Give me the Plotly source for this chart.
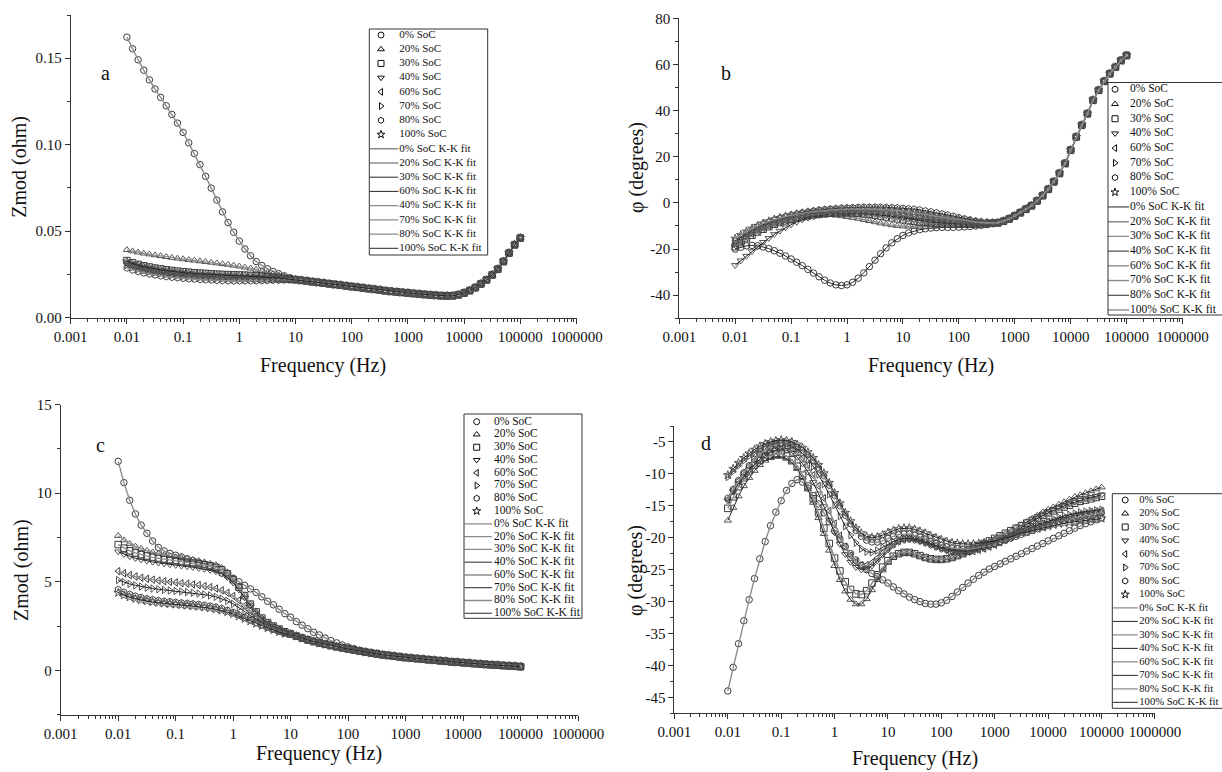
import plotly.graph_objects as go

W, H = 1222, 772
FONT = "Liberation Serif"

# ---------------- data ----------------
FREQ = [0.01, 0.01259, 0.01585, 0.01995, 0.02512, 0.03162, 0.03981, 0.05012, 0.0631, 0.07943,
        0.1, 0.1259, 0.1585, 0.1995, 0.2512, 0.3162, 0.3981, 0.5012, 0.631, 0.7943,
        1, 1.259, 1.585, 1.995, 2.512, 3.162, 3.981, 5.012, 6.31, 7.943,
        10, 12.59, 15.85, 19.95, 25.12, 31.62, 39.81, 50.12, 63.1, 79.43,
        100, 125.9, 158.5, 199.5, 251.2, 316.2, 398.1, 501.2, 631, 794.3,
        1000, 1259, 1585, 1995, 2512, 3162, 3981, 5012, 6310, 7943,
        10000, 12590, 15850, 19950, 25120, 31620, 39810, 50120, 63100, 79430, 100000]

SERIES = ["0% SoC", "20% SoC", "30% SoC", "40% SoC", "60% SoC", "70% SoC", "80% SoC", "100% SoC"]
SYMBOLS = ["circle-open", "triangle-up-open", "square-open", "triangle-down-open",
           "triangle-left-open", "triangle-right-open", "hexagon-open", "star-open"]

# Panel a: Zmod (ohm), first 30 points per series + shared high-frequency part
A_TAIL = [0.0220, 0.0216, 0.0212, 0.0208, 0.0204, 0.0200, 0.0196, 0.0192, 0.0188, 0.0184,
          0.0180, 0.0176, 0.0172, 0.0168, 0.0164, 0.0160, 0.0156, 0.0152, 0.0149, 0.0146,
          0.0143, 0.0140, 0.0137, 0.0134, 0.0131, 0.0129, 0.0127, 0.0126, 0.0127, 0.0133,
          0.0143, 0.0157, 0.0174, 0.0196, 0.0219, 0.0248, 0.0281, 0.0325, 0.0374, 0.0422,
          0.0461]
A0 = [0.1622, 0.1555, 0.1491, 0.1431, 0.1375, 0.1322, 0.1274, 0.1225, 0.1175, 0.1125,
      0.1071, 0.1011, 0.0949, 0.0885, 0.0817, 0.0749, 0.0680, 0.0612, 0.0550, 0.0494,
      0.0443, 0.0397, 0.0358, 0.0325, 0.0302, 0.0283, 0.0267, 0.0254, 0.0242, 0.0231]
A20 = [0.0392, 0.0385, 0.0378, 0.0372, 0.0367, 0.0362, 0.0357, 0.0352, 0.0347, 0.0343,
       0.0339, 0.0335, 0.0331, 0.0327, 0.0323, 0.0319, 0.0315, 0.0311, 0.0307, 0.0302,
       0.0297, 0.0291, 0.0285, 0.0278, 0.0270, 0.0262, 0.0254, 0.0246, 0.0238, 0.0230]
A30 = [0.0330, 0.0318, 0.0308, 0.0300, 0.0293, 0.0287, 0.0282, 0.0277, 0.0273, 0.0269,
       0.0266, 0.0263, 0.0260, 0.0258, 0.0256, 0.0254, 0.0252, 0.0250, 0.0249, 0.0248,
       0.0247, 0.0246, 0.0244, 0.0242, 0.0240, 0.0237, 0.0234, 0.0231, 0.0227, 0.0224]
A40 = [0.0318, 0.0306, 0.0296, 0.0288, 0.0281, 0.0275, 0.0270, 0.0265, 0.0261, 0.0257,
       0.0254, 0.0251, 0.0248, 0.0246, 0.0244, 0.0242, 0.0240, 0.0239, 0.0238, 0.0237,
       0.0236, 0.0235, 0.0234, 0.0233, 0.0232, 0.0231, 0.0229, 0.0227, 0.0225, 0.0223]
A60 = [0.0312, 0.0300, 0.0290, 0.0282, 0.0275, 0.0269, 0.0264, 0.0259, 0.0255, 0.0251,
       0.0248, 0.0245, 0.0242, 0.0240, 0.0238, 0.0236, 0.0234, 0.0233, 0.0232, 0.0231,
       0.0230, 0.0229, 0.0228, 0.0228, 0.0227, 0.0226, 0.0225, 0.0224, 0.0223, 0.0222]
A70 = [0.0305, 0.0293, 0.0283, 0.0275, 0.0268, 0.0262, 0.0257, 0.0252, 0.0248, 0.0244,
       0.0241, 0.0238, 0.0236, 0.0234, 0.0232, 0.0230, 0.0229, 0.0228, 0.0227, 0.0226,
       0.0225, 0.0224, 0.0224, 0.0223, 0.0223, 0.0222, 0.0222, 0.0221, 0.0221, 0.0221]
A80 = [0.0287, 0.0275, 0.0266, 0.0258, 0.0252, 0.0246, 0.0241, 0.0237, 0.0233, 0.0230,
       0.0227, 0.0224, 0.0222, 0.0220, 0.0218, 0.0217, 0.0215, 0.0214, 0.0213, 0.0212,
       0.0212, 0.0212, 0.0212, 0.0213, 0.0214, 0.0215, 0.0216, 0.0217, 0.0218, 0.0219]
A100 = [0.0325, 0.0312, 0.0302, 0.0294, 0.0287, 0.0281, 0.0276, 0.0271, 0.0267, 0.0263,
        0.0260, 0.0257, 0.0254, 0.0252, 0.0250, 0.0248, 0.0246, 0.0245, 0.0244, 0.0243,
        0.0242, 0.0241, 0.0240, 0.0239, 0.0237, 0.0235, 0.0232, 0.0229, 0.0226, 0.0223]

# Panel b: phase (degrees), first 47 points per series + shared high-frequency part
B_TAIL = [-8.6, -7.9, -6.9, -5.6, -4.2, -2.7, -1.2, 0.9, 3.2, 5.9, 9.2, 12.8, 17.1, 22.9,
          28.6, 33.7, 38.7, 44.5, 48.8, 52.7, 56.0, 58.8, 61.7, 63.9]
B0 = [-20.0, -19.2, -18.6, -18.4, -18.6, -19.1, -19.8, -20.7, -21.8, -23.0,
      -24.3, -25.7, -27.2, -28.8, -30.4, -32.0, -33.5, -34.7, -35.5, -35.8,
      -35.5, -34.4, -32.6, -30.3, -27.6, -24.8, -22.0, -19.5, -17.3, -15.5,
      -14.1, -13.0, -12.2, -11.6, -11.2, -10.9, -10.7, -10.6, -10.6, -10.6,
      -10.5, -10.4, -10.2, -10.0, -9.7, -9.4, -9.0]
B20 = [-18.0, -16.2, -14.6, -13.1, -11.8, -10.6, -9.6, -8.7, -7.9, -7.2,
       -6.6, -6.1, -5.7, -5.4, -5.2, -5.1, -5.1, -5.2, -5.4, -5.7,
       -6.0, -6.4, -6.8, -7.3, -7.8, -8.3, -8.8, -9.2, -9.6, -9.9,
       -10.1, -10.2, -10.3, -10.3, -10.3, -10.2, -10.1, -10.0, -9.9, -9.8,
       -9.7, -9.6, -9.5, -9.4, -9.2, -9.0, -8.8]
B30 = [-19.0, -17.2, -15.5, -14.0, -12.6, -11.4, -10.3, -9.3, -8.5, -7.8,
       -7.1, -6.5, -6.0, -5.6, -5.2, -4.9, -4.7, -4.5, -4.4, -4.3,
       -4.3, -4.4, -4.5, -4.7, -5.0, -5.3, -5.7, -6.1, -6.5, -6.9,
       -7.3, -7.7, -8.0, -8.3, -8.5, -8.7, -8.9, -9.0, -9.1, -9.2,
       -9.2, -9.2, -9.2, -9.2, -9.1, -9.0, -8.8]
B40 = [-27.0, -25.0, -23.0, -21.0, -19.0, -17.0, -15.3, -13.6, -12.1, -10.7,
       -9.4, -8.3, -7.3, -6.5, -5.9, -5.4, -5.0, -4.7, -4.5, -4.4,
       -4.3, -4.3, -4.4, -4.5, -4.7, -4.9, -5.2, -5.5, -5.8, -6.2,
       -6.6, -7.0, -7.4, -7.7, -8.0, -8.3, -8.5, -8.7, -8.9, -9.0,
       -9.1, -9.2, -9.2, -9.2, -9.1, -9.0, -8.8]
B60 = [-18.5, -16.6, -14.9, -13.4, -12.1, -10.9, -9.9, -9.0, -8.2, -7.5,
       -6.9, -6.3, -5.8, -5.4, -5.0, -4.7, -4.4, -4.2, -4.0, -3.9,
       -3.8, -3.8, -3.8, -3.9, -4.0, -4.1, -4.3, -4.5, -4.8, -5.1,
       -5.4, -5.7, -6.0, -6.3, -6.6, -6.9, -7.2, -7.5, -7.8, -8.0,
       -8.2, -8.4, -8.6, -8.7, -8.8, -8.8, -8.8]
B70 = [-17.5, -15.8, -14.2, -12.8, -11.5, -10.4, -9.4, -8.5, -7.7, -7.0,
       -6.4, -5.8, -5.3, -4.9, -4.5, -4.2, -3.9, -3.7, -3.5, -3.4,
       -3.3, -3.2, -3.2, -3.2, -3.3, -3.4, -3.5, -3.7, -3.9, -4.1,
       -4.4, -4.7, -5.0, -5.3, -5.7, -6.0, -6.4, -6.8, -7.1, -7.5,
       -7.8, -8.1, -8.4, -8.6, -8.7, -8.8, -8.8]
B80 = [-16.5, -14.8, -13.2, -11.8, -10.5, -9.3, -8.3, -7.4, -6.6, -5.9,
       -5.3, -4.7, -4.2, -3.8, -3.4, -3.1, -2.8, -2.6, -2.4, -2.2,
       -2.1, -2.0, -1.9, -1.8, -1.8, -1.8, -1.8, -1.9, -2.0, -2.1,
       -2.3, -2.5, -2.7, -3.0, -3.4, -3.8, -4.2, -4.7, -5.2, -5.7,
       -6.3, -6.8, -7.3, -7.8, -8.2, -8.5, -8.7]
B100 = [-15.5, -13.9, -12.4, -11.1, -9.9, -8.9, -8.0, -7.2, -6.5, -5.9,
        -5.4, -4.9, -4.5, -4.1, -3.8, -3.5, -3.3, -3.1, -2.9, -2.8,
        -2.7, -2.6, -2.6, -2.6, -2.6, -2.7, -2.8, -2.9, -3.1, -3.3,
        -3.5, -3.8, -4.1, -4.5, -4.9, -5.3, -5.7, -6.1, -6.5, -6.9,
        -7.3, -7.6, -7.9, -8.2, -8.4, -8.6, -8.7]

# Panel c: Zmod (ohm)
C0 = [11.8, 10.6, 9.6, 8.83, 8.2, 7.74, 7.3, 6.94, 6.74, 6.6,
      6.5, 6.4, 6.3, 6.2, 6.1, 6.0, 5.85, 5.7, 5.5, 5.35,
      5.2, 5.0, 4.8, 4.6, 4.4, 4.15, 3.9, 3.7, 3.45, 3.2,
      3.0, 2.75, 2.55, 2.35, 2.15, 2.0, 1.82, 1.68, 1.55, 1.43,
      1.32, 1.22, 1.12, 1.04]
C_MID = [2.05, 1.93, 1.82, 1.72, 1.63, 1.55, 1.47, 1.40, 1.33, 1.27, 1.21, 1.15, 1.09, 1.03]
C_TAIL = [0.98, 0.93, 0.88, 0.84, 0.80, 0.76, 0.72, 0.69, 0.66, 0.63,
          0.60, 0.57, 0.54, 0.51, 0.48, 0.46, 0.43, 0.41, 0.38, 0.36,
          0.33, 0.31, 0.29, 0.27, 0.25, 0.23, 0.21]
C20 = [7.6, 7.35, 7.15, 7.0, 6.87, 6.76, 6.67, 6.59, 6.52, 6.46,
       6.40, 6.35, 6.30, 6.24, 6.18, 6.11, 6.03, 5.95, 5.8, 5.55,
       5.2, 4.75, 4.25, 3.75, 3.3, 2.95, 2.7, 2.5, 2.33, 2.18]
C30 = [7.1, 6.9, 6.75, 6.63, 6.53, 6.45, 6.38, 6.32, 6.27, 6.22,
       6.18, 6.14, 6.10, 6.06, 6.01, 5.96, 5.90, 5.82, 5.68, 5.45,
       5.12, 4.7, 4.22, 3.74, 3.3, 2.95, 2.7, 2.5, 2.33, 2.18]
C40 = [6.7, 6.55, 6.43, 6.33, 6.25, 6.18, 6.12, 6.07, 6.02, 5.98,
       5.94, 5.90, 5.86, 5.82, 5.77, 5.72, 5.66, 5.58, 5.45, 5.25,
       4.95, 4.55, 4.1, 3.65, 3.25, 2.92, 2.67, 2.48, 2.31, 2.17]
C60 = [5.6, 5.48, 5.38, 5.30, 5.23, 5.17, 5.12, 5.07, 5.03, 4.99,
       4.96, 4.92, 4.89, 4.85, 4.81, 4.76, 4.70, 4.62, 4.52, 4.38,
       4.2, 3.95, 3.65, 3.35, 3.05, 2.8, 2.6, 2.43, 2.28, 2.15]
C70 = [5.1, 4.98, 4.88, 4.80, 4.73, 4.67, 4.62, 4.58, 4.54, 4.51,
       4.48, 4.45, 4.42, 4.38, 4.34, 4.29, 4.23, 4.15, 4.05, 3.92,
       3.75, 3.55, 3.32, 3.1, 2.88, 2.68, 2.5, 2.35, 2.22, 2.1]
C80 = [4.57, 4.42, 4.30, 4.20, 4.12, 4.05, 4.00, 3.95, 3.91, 3.88,
       3.85, 3.82, 3.79, 3.76, 3.73, 3.69, 3.64, 3.58, 3.50, 3.40,
       3.28, 3.14, 2.99, 2.84, 2.70, 2.56, 2.44, 2.32, 2.2, 2.1]
C100 = [4.38, 4.24, 4.13, 4.04, 3.97, 3.91, 3.86, 3.82, 3.78, 3.75,
        3.72, 3.69, 3.66, 3.63, 3.60, 3.56, 3.51, 3.45, 3.38, 3.29,
        3.18, 3.05, 2.91, 2.77, 2.64, 2.51, 2.39, 2.28, 2.17, 2.07]

# Panel d: phase (degrees)
D0 = [-44.0, -40.3, -36.6, -33.0, -29.7, -26.4, -23.3, -20.6, -18.1, -16.0,
      -14.2, -12.6, -11.5, -10.9, -11.3, -12.2, -13.4, -14.7, -16.1, -17.5,
      -18.9, -20.2, -21.4, -22.5, -23.5, -24.3, -25.0, -25.6, -26.1, -26.6,
      -27.1, -27.7, -28.3, -28.8, -29.3, -29.7, -30.0, -30.3, -30.4, -30.4,
      -30.2, -29.8, -29.2, -28.5, -27.8, -27.1, -26.5, -25.9, -25.4, -24.9,
      -24.5, -24.1, -23.7, -23.3, -22.9, -22.5, -22.1, -21.7, -21.3, -20.9,
      -20.5, -20.1, -19.7, -19.3, -18.9, -18.5, -18.1, -17.8, -17.5, -17.2, -16.9]
D20 = [-17.3, -15.3, -13.5, -11.9, -10.6, -9.5, -8.6, -7.9, -7.5, -7.3,
       -7.3, -7.6, -8.2, -9.2, -10.6, -12.4, -14.5, -16.9, -19.4, -22.0,
       -24.4, -26.6, -28.4, -29.7, -30.4, -30.4, -29.6, -28.2, -26.6, -25.1,
       -23.9, -23.1, -22.6, -22.4, -22.4, -22.6, -22.9, -23.2, -23.4, -23.5,
       -23.5, -23.4, -23.2, -22.9, -22.6, -22.2, -21.8, -21.4, -21.0, -20.6,
       -20.2, -19.8, -19.4, -19.0, -18.5, -18.0, -17.5, -17.0, -16.5, -16.0,
       -15.6, -15.2, -14.8, -14.4, -14.0, -13.6, -13.3, -13.0, -12.7, -12.4, -12.1]
D30 = [-15.4, -13.6, -12.0, -10.6, -9.5, -8.6, -7.9, -7.4, -7.1, -6.9,
       -6.9, -7.2, -7.8, -8.8, -10.2, -11.9, -13.9, -16.1, -18.5, -20.9,
       -23.2, -25.2, -26.9, -28.1, -28.8, -28.9, -28.3, -27.1, -25.8, -24.6,
       -23.6, -22.9, -22.5, -22.3, -22.3, -22.5, -22.8, -23.1, -23.3, -23.4,
       -23.4, -23.3, -23.1, -22.8, -22.5, -22.1, -21.7, -21.3, -20.9, -20.5,
       -20.1, -19.7, -19.3, -18.9, -18.5, -18.1, -17.7, -17.3, -16.9, -16.5,
       -16.1, -15.8, -15.5, -15.2, -14.9, -14.6, -14.3, -14.1, -13.9, -13.7, -13.5]
D40 = [-14.2, -12.8, -11.5, -10.4, -9.4, -8.5, -7.7, -7.1, -6.6, -6.3,
       -6.2, -6.3, -6.7, -7.4, -8.4, -9.7, -11.3, -13.1, -15.1, -17.2,
       -19.2, -21.0, -22.6, -23.8, -24.6, -25.0, -24.9, -24.4, -23.6, -22.7,
       -21.9, -21.2, -20.7, -20.4, -20.3, -20.4, -20.6, -20.9, -21.2, -21.5,
       -21.8, -22.0, -22.1, -22.2, -22.2, -22.1, -21.9, -21.7, -21.4, -21.1,
       -20.7, -20.3, -19.9, -19.4, -18.9, -18.4, -17.9, -17.4, -16.9, -16.5,
       -16.1, -15.7, -15.3, -15.0, -14.7, -14.4, -14.1, -13.9, -13.7, -13.5, -13.3]
D60 = [-14.0, -12.5, -11.1, -9.9, -8.8, -7.9, -7.1, -6.5, -6.0, -5.7,
       -5.6, -5.7, -6.0, -6.6, -7.5, -8.7, -10.2, -11.9, -13.8, -15.8,
       -17.8, -19.7, -21.4, -22.8, -23.8, -24.3, -24.3, -23.9, -23.2, -22.4,
       -21.6, -21.0, -20.5, -20.2, -20.1, -20.2, -20.4, -20.7, -21.0, -21.3,
       -21.6, -21.9, -22.1, -22.2, -22.2, -22.2, -22.1, -21.9, -21.7, -21.4,
       -21.1, -20.7, -20.3, -19.9, -19.5, -19.1, -18.7, -18.4, -18.1, -17.8,
       -17.5, -17.3, -17.1, -16.9, -16.7, -16.5, -16.3, -16.2, -16.0, -15.9, -15.8]
D70 = [-10.5, -9.6, -8.7, -7.9, -7.2, -6.6, -6.1, -5.7, -5.4, -5.2,
       -5.2, -5.3, -5.6, -6.1, -6.8, -7.7, -8.8, -10.1, -11.6, -13.2,
       -14.9, -16.6, -18.2, -19.6, -20.8, -21.7, -22.2, -22.3, -22.0, -21.5,
       -21.0, -20.6, -20.3, -20.1, -20.1, -20.2, -20.4, -20.7, -21.0, -21.3,
       -21.6, -21.8, -22.0, -22.1, -22.1, -22.1, -22.0, -21.8, -21.6, -21.3,
       -21.0, -20.7, -20.3, -19.9, -19.5, -19.1, -18.7, -18.3, -18.0, -17.7,
       -17.4, -17.1, -16.8, -16.6, -16.4, -16.2, -16.0, -15.9, -15.8, -15.7, -15.6]
D80 = [-13.8, -12.4, -11.0, -9.8, -8.7, -7.7, -6.9, -6.2, -5.7, -5.4,
       -5.2, -5.2, -5.4, -5.8, -6.3, -7.0, -7.9, -9.0, -10.3, -11.8,
       -13.4, -15.0, -16.5, -17.8, -18.9, -19.8, -20.4, -20.7, -20.7, -20.5,
       -20.1, -19.8, -19.5, -19.4, -19.4, -19.6, -19.9, -20.3, -20.6, -20.9,
       -21.2, -21.4, -21.6, -21.7, -21.8, -21.8, -21.7, -21.6, -21.4, -21.2,
       -21.0, -20.7, -20.4, -20.1, -19.8, -19.5, -19.2, -18.9, -18.6, -18.3,
       -18.0, -17.7, -17.5, -17.3, -17.1, -16.9, -16.7, -16.5, -16.4, -16.2, -16.1]
D100 = [-10.2, -9.2, -8.3, -7.5, -6.8, -6.2, -5.7, -5.3, -5.0, -4.8,
        -4.7, -4.8, -5.0, -5.4, -5.9, -6.6, -7.5, -8.6, -9.9, -11.4,
        -13.0, -14.6, -16.1, -17.4, -18.5, -19.3, -19.8, -20.0, -19.9, -19.6,
        -19.2, -18.9, -18.6, -18.5, -18.5, -18.7, -19.0, -19.3, -19.7, -20.0,
        -20.3, -20.6, -20.8, -20.9, -21.0, -21.0, -21.0, -20.9, -20.8, -20.7,
        -20.5, -20.3, -20.1, -19.8, -19.6, -19.3, -19.1, -18.8, -18.6, -18.4,
        -18.2, -18.0, -17.8, -17.7, -17.6, -17.5, -17.4, -17.3, -17.2, -17.1, -17.0]

PANEL_A = [A0 + A_TAIL, A20 + A_TAIL, A30 + A_TAIL, A40 + A_TAIL,
           A60 + A_TAIL, A70 + A_TAIL, A80 + A_TAIL, A100 + A_TAIL]
PANEL_B = [s + B_TAIL for s in (B0, B20, B30, B40, B60, B70, B80, B100)]
PANEL_C = [C0 + C_TAIL] + [s + C_MID + C_TAIL for s in (C20, C30, C40, C60, C70, C80, C100)]
PANEL_D = [D0, D20, D30, D40, D60, D70, D80, D100]

for arr in PANEL_A + PANEL_B + PANEL_C + PANEL_D:
    assert len(arr) == len(FREQ), len(arr)

X_TICK_VALS = [0.001, 0.01, 0.1, 1, 10, 100, 1000, 10000, 100000, 1000000]
X_TICK_TEXT = ["0.001", "0.01", "0.1", "1", "10", "100", "1000", "10000", "100000", "1000000"]
X_MINOR = [m * 10.0 ** k for k in range(-3, 6) for m in range(2, 10)]

G, K = "#8c8c8c", "#262626"
# fit-legend order and colours for each panel
FIT_A = [("0%", G), ("20%", G), ("30%", K), ("60%", K), ("40%", G), ("70%", G), ("80%", G), ("100%", K)]
FIT_B = [("0%", K), ("20%", G), ("30%", G), ("40%", K), ("60%", G), ("70%", G), ("80%", K), ("100%", G)]
FIT_C = [("0%", G), ("20%", G), ("30%", G), ("40%", K), ("60%", G), ("70%", K), ("80%", G), ("100%", K)]
FIT_D = [("0%", G), ("20%", K), ("30%", G), ("40%", K), ("60%", G), ("70%", K), ("80%", G), ("100%", K)]

panels = [
    dict(data=PANEL_A, fit=FIT_A, box=(70.7, 576.5, 15, 317.7), yr=[0, 0.175],
         yt=[0, 0.05, 0.1, 0.15], ytt=["0.00", "0.05", "0.10", "0.15"], ym=[0.025, 0.075, 0.125, 0.175],
         ytitle="Zmod (ohm)", ytpos=(20, 166.7), xtpos=(323, 365), letter="a", lpos=(105, 73),
         leg=dict(l=369.3, t=29, r=487.7, b=255, mdx=11.7, tdx=30, lx=(0.5, 29), dy0=6,
                  step=14.22, fs=11)),
    dict(data=PANEL_B, fit=FIT_B, box=(679.3, 1182.5, 18.3, 318.3), yr=[-50, 80],
         yt=[-40, -20, 0, 20, 40, 60, 80], ytt=["-40", "-20", "0", "20", "40", "60", "80"],
         ym=[-50, -30, -10, 10, 30, 50, 70],
         ytitle="φ (degrees)", ytpos=(636, 168), xtpos=(931, 365), letter="b", lpos=(726, 73),
         leg=dict(l=1108, t=82.5, r=1232, b=315, mdx=7, tdx=22, lx=(0, 21), dy0=6.8,
                  step=14.71, fs=11.5)),
    dict(data=PANEL_C, fit=FIT_C, box=(60.7, 578, 404.7, 714.6), yr=[-2.5, 15],
         yt=[0, 5, 10, 15], ytt=["0", "5", "10", "15"], ym=[-2.5, 2.5, 7.5, 12.5],
         ytitle="Zmod (ohm)", ytpos=(21, 570), xtpos=(319, 753), letter="c", lpos=(100, 445),
         leg=dict(l=464, t=414, r=582, b=618.3, mdx=12.7, tdx=30, lx=(0.5, 28), dy0=7.7,
                  step=12.77, fs=11.5)),
    dict(data=PANEL_D, fit=FIT_D, box=(674.4, 1154.9, 426, 713.3), yr=[-47.5, -2.5],
         yt=[-45, -40, -35, -30, -25, -20, -15, -10, -5],
         ytt=["-45", "-40", "-35", "-30", "-25", "-20", "-15", "-10", "-5"],
         ym=[-47.5, -42.5, -37.5, -32.5, -27.5, -22.5, -17.5, -12.5, -7.5, -2.5],
         ytitle="φ (degrees)", ytpos=(635, 570), xtpos=(915, 758), letter="d", lpos=(706, 443),
         leg=dict(l=1112.3, t=493.7, r=1232, b=708.3, mdx=12.9, tdx=27, lx=(0, 25.5), dy0=6.3,
                  step=13.49, fs=10.6)),
]

fig = go.Figure()
layout = dict(width=W, height=H, margin=dict(l=0, r=0, t=0, b=0), autosize=False,
              paper_bgcolor="white", plot_bgcolor="rgba(0,0,0,0)", showlegend=False,
              template="none", font=dict(family=FONT, color="#111"))
annotations, shapes = [], []

def px_x(v):
    return v / W

def px_y(v):
    return 1 - v / H

AX = "#333333"
for i, p in enumerate(panels):
    n = i + 1
    sfx = "" if n == 1 else str(n)
    x0, x1, yt_, yb_ = p["box"]
    layout["xaxis" + sfx] = dict(
        type="log", range=[-3, 6], domain=[px_x(x0), px_x(x1)], anchor="y" + sfx,
        tickmode="array", tickvals=X_TICK_VALS, ticktext=X_TICK_TEXT,
        ticks="outside", ticklen=5, tickwidth=1, tickcolor=AX,
        showline=True, linecolor=AX, linewidth=1, showgrid=False, zeroline=False,
        tickfont=dict(family=FONT, size=15, color="#111"),
        minor=dict(tickmode="array", tickvals=X_MINOR, ticks="outside", ticklen=3,
                   tickwidth=1, tickcolor=AX, showgrid=False))
    layout["yaxis" + sfx] = dict(
        range=p["yr"], domain=[px_y(yb_), px_y(yt_)], anchor="x" + sfx,
        tickmode="array", tickvals=p["yt"], ticktext=p["ytt"],
        ticks="outside", ticklen=5, tickwidth=1, tickcolor=AX,
        showline=True, linecolor=AX, linewidth=1, showgrid=False, zeroline=False,
        tickfont=dict(family=FONT, size=15, color="#111"),
        minor=dict(tickmode="array", tickvals=p["ym"], ticks="outside", ticklen=3,
                   tickwidth=1, tickcolor=AX, showgrid=False))

    colour_of = {k: c for k, c in p["fit"]}
    for s, (name, sym, ys) in enumerate(zip(SERIES, SYMBOLS, p["data"])):
        key = name.split(" ")[0]
        col = colour_of[key]
        mcol = "#3a3a3a" if s % 2 == 0 else "#555555"
        fig.add_trace(go.Scatter(
            x=FREQ, y=ys, mode="markers", name=name, xaxis="x" + sfx, yaxis="y" + sfx,
            marker=dict(symbol=sym, size=6.5, color=mcol, line=dict(width=1, color=mcol))))
        fig.add_trace(go.Scatter(
            x=FREQ, y=ys, mode="lines", name=name + " K-K fit", xaxis="x" + sfx, yaxis="y" + sfx,
            line=dict(color=col, width=1.4 if col == G else 1.0)))

    # axis titles and panel letter
    annotations.append(dict(text="Frequency (Hz)", x=px_x(p["xtpos"][0]), y=px_y(p["xtpos"][1]),
                            xref="paper", yref="paper", showarrow=False, xanchor="center",
                            yanchor="middle", font=dict(family=FONT, size=20, color="#111")))
    annotations.append(dict(text=p["ytitle"], x=px_x(p["ytpos"][0]), y=px_y(p["ytpos"][1]),
                            xref="paper", yref="paper", showarrow=False, textangle=-90,
                            xanchor="center", yanchor="middle",
                            font=dict(family=FONT, size=20, color="#111")))
    annotations.append(dict(text=p["letter"], x=px_x(p["lpos"][0]), y=px_y(p["lpos"][1]),
                            xref="paper", yref="paper", showarrow=False, xanchor="center",
                            yanchor="middle", font=dict(family=FONT, size=20, color="#111")))

    # legend box drawn on its own hidden axes (pixel units)
    L = p["leg"]
    ln = n + 4
    lr = min(L["r"], W)
    layout["xaxis%d" % ln] = dict(domain=[px_x(L["l"]), px_x(lr)], range=[0, lr - L["l"]],
                                  visible=False, anchor="y%d" % ln, fixedrange=True)
    layout["yaxis%d" % ln] = dict(domain=[px_y(L["b"]), px_y(L["t"])], range=[L["b"] - L["t"], 0],
                                  visible=False, anchor="x%d" % ln, fixedrange=True)
    shapes.append(dict(type="rect", xref="paper", yref="paper", x0=px_x(L["l"]), x1=px_x(L["r"]),
                       y0=px_y(L["b"]), y1=px_y(L["t"]), line=dict(color=AX, width=1),
                       fillcolor="rgba(0,0,0,0)"))
    rows = [L["dy0"] + k * L["step"] for k in range(16)]
    labels = SERIES + [k + " SoC K-K fit" for k, _ in p["fit"]]
    for k, sym in enumerate(SYMBOLS):
        fig.add_trace(go.Scatter(x=[L["mdx"]], y=[rows[k]], mode="markers", xaxis="x%d" % ln,
                                 yaxis="y%d" % ln, hoverinfo="skip", cliponaxis=False,
                                 marker=dict(symbol=sym, size=6, color="#111",
                                             line=dict(width=1, color="#111"))))
    for k, (_, col) in enumerate(p["fit"]):
        fig.add_trace(go.Scatter(x=list(L["lx"]), y=[rows[8 + k]] * 2, mode="lines",
                                 xaxis="x%d" % ln, yaxis="y%d" % ln, hoverinfo="skip",
                                 cliponaxis=False, line=dict(color=col, width=1.4 if col == G else 1.0)))
    fig.add_trace(go.Scatter(x=[L["tdx"]] * 16, y=rows, mode="text", text=labels,
                             textposition="middle right", xaxis="x%d" % ln, yaxis="y%d" % ln,
                             hoverinfo="skip", cliponaxis=False,
                             textfont=dict(family=FONT, size=L["fs"], color="#111")))

layout["annotations"] = annotations
layout["shapes"] = shapes
fig.update_layout(**layout)
fig.write_html("out.html", config={"displayModeBar": False, "staticPlot": True},
               post_script="document.body.style.margin='0';document.body.style.overflow='hidden';")
